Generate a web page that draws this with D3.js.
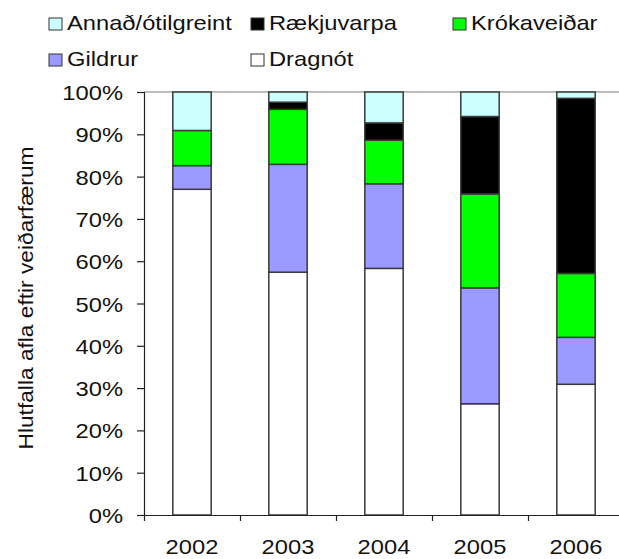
<!DOCTYPE html>
<html><head><meta charset="utf-8">
<script src="https://cdn.jsdelivr.net/npm/d3@7"></script>
<style>
html,body{margin:0;padding:0;background:#fff;}
svg{display:block;font-family:"Liberation Sans",Arial,sans-serif;}
</style></head>
<body>
<svg id="chart" width="619" height="559"></svg>
<script>
const years = ["2002","2003","2004","2005","2006"];
const seriesNames = ["Dragnót","Gildrur","Krókaveiðar","Rækjuvarpa","Annað/ótilgreint"];
const dragnot     = [77.0, 57.4, 58.3, 26.3, 30.9];
const gildrur     = [5.6, 25.5, 20.0, 27.4, 11.1];
const krokaveidar = [8.3, 13.0, 10.3, 22.2, 15.1];
const raekjuvarpa = [0.0, 1.7, 4.1, 18.3, 41.4];
const annad       = [9.1, 2.4, 7.3, 5.8, 1.5];
const yTicks = [0,10,20,30,40,50,60,70,80,90,100];
const colors = ["#FFFFFF","#9999FF","#00FF00","#000000","#CCFFFF"];
const yTitle = "Hlutfalla afla eftir veiðarfærum";

(function(){
const seriesValues = [dragnot, gildrur, krokaveidar, raekjuvarpa, annad];
const rows = years.map((y,i)=>{const r={year:y}; seriesNames.forEach((s,j)=>r[s]=seriesValues[j][i]); return r;});
const stack = d3.stack().keys(seriesNames)(rows);

const svg = d3.select("#chart");
const K = 1.13; // horizontal text stretch
const mLeft=144, mRight=624, mTop=92, mBottom=515;
const x = d3.scaleBand().domain(years).range([mLeft,mRight]).paddingInner(0.6).paddingOuter(0.3);
const y = d3.scaleLinear().domain([0,100]).range([mBottom,mTop]);

svg.append("line").attr("x1",mLeft).attr("x2",mRight).attr("y1",y(100)).attr("y2",y(100))
  .attr("stroke","#a6a6a6").attr("stroke-width",1.5);

svg.append("g").selectAll("g").data(stack).join("g")
  .attr("fill",(d,i)=>colors[i])
  .selectAll("rect").data(d=>d).join("rect")
  .attr("x",d=>x(d.data.year)).attr("width",x.bandwidth())
  .attr("y",d=>y(d[1])).attr("height",d=>Math.max(0,y(d[0])-y(d[1])))
  .attr("stroke",d=>(d[1]-d[0])>0?"#3a3a3a":"none").attr("stroke-width",1.5);

const ya = svg.append("g").attr("transform",`translate(${mLeft},0)`)
  .call(d3.axisLeft(y).tickValues(yTicks).tickFormat(d=>d+"%").tickSizeOuter(0).tickSize(7));
ya.attr("font-family",null);
ya.select(".domain").attr("stroke","#222").attr("stroke-width",1.2);
ya.selectAll(".tick line").attr("stroke","#222").attr("stroke-width",1.2);
ya.selectAll(".tick text").attr("font-size",21).attr("fill","#111")
  .attr("x",-21/K).attr("transform",`scale(${K},1)`).attr("dy","0.36em");

const xb = d3.scaleLinear().domain([0,years.length]).range([mLeft,mRight]);
const xa = svg.append("g").attr("transform",`translate(0,${mBottom})`)
  .call(d3.axisBottom(xb).tickValues(d3.range(years.length+1)).tickFormat("").tickSize(6).tickSizeOuter(0));
xa.select(".domain").attr("stroke","#222").attr("stroke-width",1.2);
xa.selectAll(".tick line").attr("stroke","#222").attr("stroke-width",1.2);

const xl = svg.append("g").attr("transform",`translate(0,${mBottom})`)
  .call(d3.axisBottom(x).tickSize(0));
xl.select(".domain").remove();
xl.attr("font-family",null);
xl.selectAll(".tick text").attr("font-size",21).attr("fill","#111").attr("y",39).attr("dy",0);
xl.selectAll(".tick").attr("transform",d=>`translate(${x(d)+x.bandwidth()/2},0) scale(${K},1)`);

svg.append("text").attr("transform","translate(33,298) rotate(-90)")
  .attr("text-anchor","middle").attr("font-size",20).attr("fill","#111")
  .attr("textLength",303).attr("lengthAdjust","spacingAndGlyphs").text(yTitle);

const legendOrder = [
  {name:"Annað/ótilgreint", color:colors[4], sx:49, row:0},
  {name:"Rækjuvarpa", color:colors[3], sx:251, row:0},
  {name:"Krókaveiðar", color:colors[2], sx:453, row:0},
  {name:"Gildrur", color:colors[1], sx:49, row:1},
  {name:"Dragnót", color:colors[0], sx:251, row:1}
];
const lg = svg.append("g").selectAll("g").data(legendOrder).join("g");
lg.append("rect").attr("x",d=>d.sx).attr("y",d=>18+d.row*36).attr("width",13).attr("height",12)
  .attr("fill",d=>d.color).attr("stroke","#333").attr("stroke-width",1);
lg.append("text").attr("x",d=>(d.sx+18)/K).attr("y",d=>30+d.row*36)
  .attr("transform",`scale(${K},1)`).attr("font-size",21).attr("fill","#111").text(d=>d.name);
})();
</script>
</body></html>
